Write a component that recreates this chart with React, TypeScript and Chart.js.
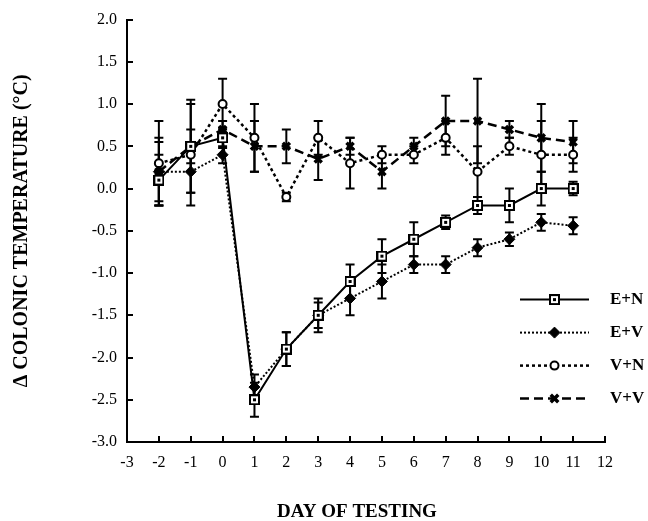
import React, { useEffect, useRef } from 'react';
import { Chart, registerables } from 'chart.js';

Chart.register(...registerables);

// ---------- data ----------
const days = [-2, -1, 0, 1, 2, 3, 4, 5, 6, 7, 8, 9, 10, 11];

const enMean = [0.1, 0.5, 0.6, -2.5, -1.9, -1.5, -1.1, -0.8, -0.6, -0.4, -0.2, -0.2, 0.0, 0.0];
const enErr = [0.3, 0.55, 0.12, 0.2, 0.2, 0.2, 0.2, 0.2, 0.2, 0.08, 0.1, 0.2, 0.2, 0.08];

const evMean = [0.2, 0.2, 0.4, -2.35, -1.9, -1.5, -1.3, -1.1, -0.9, -0.9, -0.7, -0.6, -0.4, -0.44];
const evErr = [0.35, 0.25, 0.1, 0.15, 0.2, 0.15, 0.2, 0.2, 0.1, 0.1, 0.1, 0.08, 0.1, 0.1];

const vnMean = [0.3, 0.4, 1.0, 0.6, -0.1, 0.6, 0.3, 0.4, 0.4, 0.6, 0.2, 0.5, 0.4, 0.4];
const vnErr = [0.5, 0.6, 0.3, 0.4, 0.05, 0.2, 0.3, 0.1, 0.1, 0.2, 0.3, 0.1, 0.4, 0.2];

const vvMean = [0.2, 0.5, 0.7, 0.5, 0.5, 0.35, 0.5, 0.2, 0.5, 0.8, 0.8, 0.7, 0.6, 0.55];
const vvErr = [0.4, 0.2, 0.1, 0.3, 0.2, 0.25, 0.1, 0.2, 0.1, 0.3, 0.5, 0.1, 0.4, 0.25];

const seriesLabels = ['E+N', 'E+V', 'V+N', 'V+V'];
const xTitle = 'DAY OF TESTING';
const yTitle = '\u0394 COLONIC TEMPERATURE (\u00B0C)';

// ---------- styles ----------
const SERIF = "'Liberation Serif', 'Times New Roman', serif";

function makeSquareDot(): HTMLCanvasElement {
  const c = document.createElement('canvas');
  c.width = 11;
  c.height = 11;
  const g = c.getContext('2d')!;
  g.fillStyle = '#fff';
  g.fillRect(0, 0, 11, 11);
  g.strokeStyle = '#000';
  g.lineWidth = 2;
  g.strokeRect(1, 1, 9, 9);
  g.fillStyle = '#000';
  g.fillRect(4, 4, 3, 3);
  return c;
}

type Style = {
  dash: number[];
  width: number;
  point: any;
  radius: number;
  bg: string;
  pw: number;
};

function buildStyles(): Style[] {
  return [
    { dash: [], width: 2, point: makeSquareDot(), radius: 5, bg: '#fff', pw: 2 },
    { dash: [2, 2], width: 2, point: 'rectRot', radius: 5.5, bg: '#000', pw: 1 },
    { dash: [3, 3], width: 2.5, point: 'circle', radius: 4, bg: '#fff', pw: 2 },
    { dash: [9, 5], width: 2.5, point: 'crossRot', radius: 5, bg: '#000', pw: 3.5 },
  ];
}

const means = [enMean, evMean, vnMean, vvMean];
const errs = [enErr, evErr, vnErr, vvErr];

const errorBarPlugin = {
  id: 'errorBars',
  beforeDatasetsDraw(chart: any) {
    const { ctx, scales } = chart;
    const xs = scales.x;
    const ys = scales.y;
    ctx.save();
    ctx.strokeStyle = '#000';
    ctx.lineWidth = 2;
    ctx.setLineDash([]);
    means.forEach((m, si) => {
      m.forEach((v, i) => {
        const e = errs[si][i];
        const px = xs.getPixelForValue(days[i]);
        const top = ys.getPixelForValue(v + e);
        const bot = ys.getPixelForValue(v - e);
        ctx.beginPath();
        ctx.moveTo(px, top);
        ctx.lineTo(px, bot);
        ctx.moveTo(px - 4.5, top);
        ctx.lineTo(px + 4.5, top);
        ctx.moveTo(px - 4.5, bot);
        ctx.lineTo(px + 4.5, bot);
        ctx.stroke();
      });
    });
    ctx.restore();
  },
};

const innerTicksPlugin = {
  id: 'innerTicks',
  afterDraw(chart: any) {
    const { ctx, scales, chartArea } = chart;
    ctx.save();
    ctx.strokeStyle = '#000';
    ctx.lineWidth = 2;
    ctx.setLineDash([]);
    scales.y.ticks.forEach((t: any) => {
      if (t.value === scales.y.min) return;
      const py = Math.round(scales.y.getPixelForValue(t.value));
      ctx.beginPath();
      ctx.moveTo(chartArea.left, py);
      ctx.lineTo(chartArea.left + 6, py);
      ctx.stroke();
    });
    scales.x.ticks.forEach((t: any) => {
      if (t.value === scales.x.min) return;
      const px = Math.round(scales.x.getPixelForValue(t.value));
      ctx.beginPath();
      ctx.moveTo(px, chartArea.bottom);
      ctx.lineTo(px, chartArea.bottom - 6);
      ctx.stroke();
    });
    // x-axis title (slightly left of centre, as in the reference)
    ctx.fillStyle = '#000';
    ctx.font = `bold 19px ${SERIF}`;
    ctx.textAlign = 'center';
    ctx.textBaseline = 'middle';
    ctx.fillText(xTitle, (chartArea.left + chartArea.right) / 2 - 9, chart.height - 9);
    ctx.restore();
  },
};

function drawMarker(ctx: CanvasRenderingContext2D, st: Style, x: number, y: number) {
  ctx.save();
  ctx.setLineDash([]);
  ctx.strokeStyle = '#000';
  ctx.fillStyle = st.bg;
  ctx.lineWidth = st.pw;
  const r = st.radius;
  if (typeof st.point !== 'string') {
    ctx.drawImage(st.point, x - st.point.width / 2, y - st.point.height / 2);
  } else if (st.point === 'rectRot') {
    ctx.beginPath();
    ctx.moveTo(x, y - r);
    ctx.lineTo(x + r, y);
    ctx.lineTo(x, y + r);
    ctx.lineTo(x - r, y);
    ctx.closePath();
    ctx.fill();
    ctx.stroke();
  } else if (st.point === 'circle') {
    ctx.beginPath();
    ctx.arc(x, y, r, 0, Math.PI * 2);
    ctx.fill();
    ctx.stroke();
  } else {
    const d = r * 0.75;
    ctx.beginPath();
    ctx.moveTo(x - d, y - d);
    ctx.lineTo(x + d, y + d);
    ctx.moveTo(x + d, y - d);
    ctx.lineTo(x - d, y + d);
    ctx.stroke();
  }
  ctx.restore();
}

function makeLegendPlugin(styles: Style[]) {
  return {
    id: 'customLegend',
    afterDraw(chart: any) {
      const { ctx, chartArea } = chart;
      const x0 = chartArea.right - 85;
      const x1 = chartArea.right - 16;
      const xm = (x0 + x1) / 2;
      const tx = chartArea.right + 5;
      const y0 = chartArea.top + 280;
      const gap = 33;
      ctx.save();
      seriesLabels.forEach((lab, i) => {
        const st = styles[i];
        const y = y0 + i * gap;
        ctx.strokeStyle = '#000';
        ctx.lineWidth = st.width;
        ctx.setLineDash(st.dash);
        ctx.beginPath();
        ctx.moveTo(x0, y);
        ctx.lineTo(x1, y);
        ctx.stroke();
        drawMarker(ctx, st, xm, y);
        ctx.setLineDash([]);
        ctx.fillStyle = '#000';
        ctx.font = `bold 17px ${SERIF}`;
        ctx.textAlign = 'left';
        ctx.textBaseline = 'middle';
        ctx.fillText(lab, tx, y);
      });
      ctx.restore();
    },
  };
}

export default function App() {
  const ref = useRef<HTMLCanvasElement>(null);

  useEffect(() => {
    const canvas = ref.current;
    if (!canvas) return;
    const styles = buildStyles();
    const datasets = seriesLabels.map((lab, si) => ({
      label: lab,
      data: days.map((d, i) => ({ x: d, y: means[si][i] })),
      borderColor: '#000',
      borderWidth: styles[si].width,
      borderDash: styles[si].dash,
      pointStyle: styles[si].point,
      pointRadius: styles[si].radius,
      pointBackgroundColor: styles[si].bg,
      pointBorderColor: '#000',
      pointBorderWidth: styles[si].pw,
      fill: false,
      tension: 0,
    }));

    const chart = new Chart(canvas, {
      type: 'line',
      data: { datasets },
      options: {
        responsive: false,
        animation: false,
        layout: { padding: { top: 19, right: 43, bottom: 0, left: 0 } },
        plugins: {
          legend: { display: false },
          tooltip: { enabled: false },
        },
        scales: {
          x: {
            type: 'linear',
            min: -3,
            max: 12,
            ticks: {
              stepSize: 1,
              color: '#000',
              font: { family: SERIF, size: 16 },
              padding: 11,
              callback: (v: any) => String(v),
            },
            grid: { display: false, drawTicks: false },
            border: { display: true, color: '#000', width: 2 },
            title: { display: false, text: xTitle },
            afterFit: (s: any) => {
              s.height = 79;
            },
          },
          y: {
            type: 'linear',
            min: -3,
            max: 2,
            ticks: {
              stepSize: 0.5,
              color: '#000',
              font: { family: SERIF, size: 16 },
              padding: 10,
              callback: (v: any) => Number(v).toFixed(1),
            },
            grid: { display: false, drawTicks: false },
            border: { display: true, color: '#000', width: 2 },
            title: {
              display: true,
              text: yTitle,
              color: '#000',
              font: { family: SERIF, size: 20, weight: 'bold' },
              padding: { top: 10, bottom: 0 },
            },
            afterFit: (s: any) => {
              s.width = 127;
            },
          },
        },
      } as any,
      plugins: [errorBarPlugin, innerTicksPlugin, makeLegendPlugin(styles)],
    });
    return () => chart.destroy();
  }, []);

  return (
    <div style={{ position: 'absolute', left: 0, top: 0, width: 648, height: 521, background: '#fff' }}>
      <canvas ref={ref} width={648} height={521} style={{ display: 'block', width: 648, height: 521 }} />
    </div>
  );
}
